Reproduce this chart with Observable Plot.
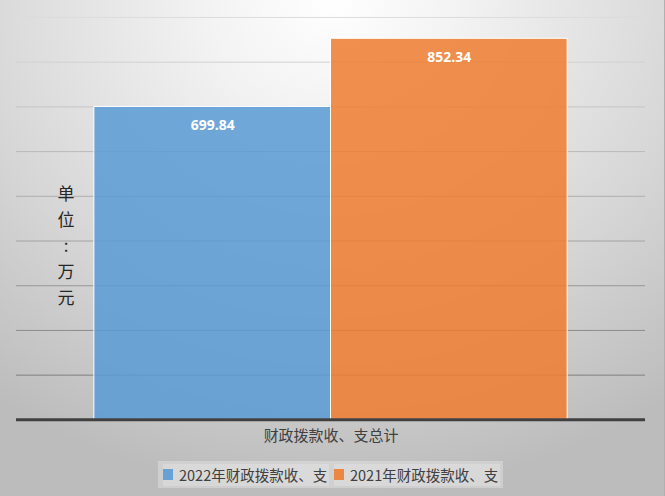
<!DOCTYPE html>
<html>
<head>
<meta charset="utf-8">
<script src="https://cdn.jsdelivr.net/npm/d3@7"></script>
<script src="https://cdn.jsdelivr.net/npm/@observablehq/plot@0.6"></script>
<style>
  html, body { margin: 0; padding: 0; }
  #wrap {
    position: relative; width: 665px; height: 496px; overflow: hidden;
    background: radial-gradient(ellipse 85% 100% at 50% 0%, #ffffff 0%, #f3f3f3 22%, #d6d6d6 65%, #bcbcbc 100%);
    font-family: "Noto Sans CJK SC", "Noto Sans", sans-serif;
    box-sizing: border-box; border-right: 1px solid #b0b0b0;
  }
  #ylabel {
    position: absolute; left: 56px; top: 180px; width: 20px;
    font-size: 17px; line-height: 26px; color: #262626; text-align: center;
  }
  #legend {
    position: absolute; left: 158px; top: 461px; width: 345px; height: 27px;
    background: rgba(255,255,255,0.28); display: flex; align-items: center;
    font-size: 14.5px; color: #404040; box-sizing: border-box; padding-left: 5px;
    white-space: nowrap;
  }
  .item { display: flex; align-items: center; flex-shrink: 0; width: 166px; background: rgba(255,255,255,0.2); height: 22px; margin-right: 5px; }
  .sw { width: 10px; height: 11px; margin-right: 6px; flex-shrink: 0; }
  svg { display: block; }
</style>
</head>
<body>
<div id="wrap">
  <div id="chart"></div>
  <div id="ylabel"></div>
  <div id="legend"></div>
</div>
<script>
const category = "财政拨款收、支总计";
const seriesNames = ["2022年财政拨款收、支", "2021年财政拨款收、支"];
const seriesValues = [699.84, 852.34];
const seriesColors = ["#5B9BD5", "#ED7D31"];
const yTicks = [100, 200, 300, 400, 500, 600, 700, 800, 900];
const yLabel = "单位：万元";

const data = seriesNames.map((s, i) => ({cat: category, series: s, value: seriesValues[i]}));
const gridColor = d3.scaleLinear().domain([100, 900]).range(["#808080", "#dcdcdc"]);

const chart = Plot.plot({
  width: 665,
  height: 458,
  marginLeft: 16,
  marginRight: 19,
  marginTop: 17,
  marginBottom: 38,
  style: {background: "transparent", fontFamily: "'Noto Sans CJK SC', sans-serif", overflow: "visible"},
  fx: {domain: [category], padding: 0, label: null},
  x: {domain: seriesNames, paddingInner: 0, paddingOuter: 0.326, axis: null},
  y: {domain: [0, 900], axis: null},
  color: {domain: seriesNames, range: seriesColors},
  marks: [
    Plot.ruleY(yTicks, {stroke: d => gridColor(d), strokeWidth: 1}),
    Plot.barY(data, {fx: "cat", x: "series", y: "value", fill: "series", fillOpacity: 0.86, stroke: "white", strokeWidth: 1}),
    Plot.ruleY([0], {stroke: "#404040", strokeWidth: 3}),
    Plot.text(data, {fx: "cat", x: "series", y: "value", text: d => d.value.toFixed(2), dy: 19, fill: "white", fontWeight: "bold", fontSize: 14, fontFamily: "'Open Sans', sans-serif"}),
    Plot.axisFx({anchor: "bottom", tickSize: 0, tickPadding: 11, fontSize: 15, fill: "#404040", label: null})
  ]
});
document.getElementById("chart").appendChild(chart);

document.getElementById("ylabel").innerHTML = Array.from(yLabel).map(c => c === "：" ? ":" : c).join("<br>");

const legend = document.getElementById("legend");
seriesNames.forEach((s, i) => {
  const it = document.createElement("div");
  it.className = "item";
  it.innerHTML = `<span class="sw" style="background:${seriesColors[i]};opacity:0.9"></span><span>${s}</span>`;
  legend.appendChild(it);
});
</script>
</body>
</html>
